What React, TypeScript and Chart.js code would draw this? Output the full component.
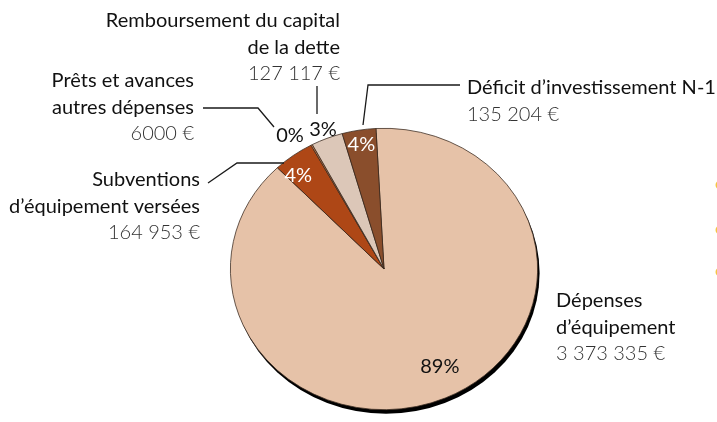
import React, { useEffect, useRef } from 'react';
import { Chart, registerables } from 'chart.js';

Chart.register(...registerables);

// ---- data ----
const categories = [
  "Dépenses d’équipement",
  "Subventions d’équipement versées",
  "Prêts et avances autres dépenses",
  "Remboursement du capital de la dette",
  "Déficit d’investissement N-1",
];
const amounts = [3373335, 164953, 6000, 127117, 135204];
const amountLabels = ['3 373 335 €', '164 953 €', '6000 €', '127 117 €', '135 204 €'];
const nameLines = [
  ['Dépenses', 'd’équipement'],
  ['Subventions', 'd’équipement versées'],
  ['Prêts et avances', 'autres dépenses'],
  ['Remboursement du capital', 'de la dette'],
  ['Déficit d’investissement N-1'],
];
const sliceColors = ['#E6C2A8', '#AE4716', '#D9895A', '#DCC7B8', '#8A4E2C'];

// ---- styling / layout (not data) ----
const SQUASH = 0.916;
const FONT = 'Lato, "Open Sans", sans-serif';
const pctRadius = [0.78, 0.87, 1.13, 1.07, 0.9];
const pctShiftDeg = [-4.3, -3.7, -4.7, 0, 0];
const pctColor = ['#111', '#fff', '#111', '#111', '#fff'];
const labelBlocks = [
  { x: 556, y: 301, align: 'left' },
  { x: 200, y: 180, align: 'right' },
  { x: 194, y: 81, align: 'right' },
  { x: 340, y: 21, align: 'right' },
  { x: 467, y: 88, align: 'left' },
];
const leaders: number[][][] = [
  [],
  [[208, 183], [237, 163], [284, 163]],
  [[203, 108], [258, 108], [274, 127]],
  [[317, 86], [317, 114]],
  [[460, 85], [368, 85], [363, 125]],
];

const pieDecor = {
  id: 'pieDecor',
  beforeDatasetsDraw(chart: any) {
    const arc = chart.getDatasetMeta(0).data[0];
    if (!arc) return;
    const { x, y, outerRadius } = arc.getProps(['x', 'y', 'outerRadius'], true);
    const ctx = chart.ctx;
    ctx.save();
    ctx.translate(x, y);
    ctx.scale(1, SQUASH);
    ctx.translate(-x, -y);
    ctx.beginPath();
    ctx.arc(x + 2, y + 4.5, outerRadius, 0, Math.PI * 2);
    ctx.fillStyle = '#000';
    ctx.fill();
  },
  afterDatasetsDraw(chart: any) {
    const ctx = chart.ctx;
    ctx.restore();
    const meta = chart.getDatasetMeta(0);
    const total = amounts.reduce((a, b) => a + b, 0);
    ctx.save();
    // percentage labels
    ctx.textAlign = 'center';
    ctx.textBaseline = 'middle';
    meta.data.forEach((el: any, i: number) => {
      const p = el.getProps(['x', 'y', 'startAngle', 'endAngle', 'outerRadius'], true);
      const mid = (p.startAngle + p.endAngle) / 2 + (pctShiftDeg[i] * Math.PI) / 180;
      const r = p.outerRadius * pctRadius[i];
      const tx = p.x + Math.cos(mid) * r;
      const ty = p.y + Math.sin(mid) * r * SQUASH;
      ctx.fillStyle = pctColor[i];
      ctx.font = `400 20px ${FONT}`;
      ctx.fillText(Math.round((amounts[i] / total) * 100) + '%', tx, ty);
    });
    // leader lines
    ctx.strokeStyle = '#1a1a1a';
    ctx.lineWidth = 1.3;
    leaders.forEach((pts) => {
      if (!pts.length) return;
      ctx.beginPath();
      pts.forEach((pt, k) => (k === 0 ? ctx.moveTo(pt[0], pt[1]) : ctx.lineTo(pt[0], pt[1])));
      ctx.stroke();
    });
    // category labels
    labelBlocks.forEach((b, i) => {
      ctx.textAlign = b.align;
      let yy = b.y;
      nameLines[i].forEach((line) => {
        ctx.fillStyle = '#111';
        ctx.font = `400 20px ${FONT}`;
        ctx.fillText(line, b.x, yy);
        yy += 26.3;
      });
      ctx.fillStyle = '#333';
      ctx.font = `300 20px ${FONT}`;
      ctx.fillText(amountLabels[i], b.x, yy);
    });
    // clipped legend markers at the right edge
    ctx.fillStyle = '#F5C542';
    [185, 230, 272].forEach((yy) => {
      ctx.beginPath();
      ctx.arc(720, yy, 4.5, 0, Math.PI * 2);
      ctx.fill();
    });
    ctx.restore();
  },
};

export default function App() {
  const ref = useRef<HTMLCanvasElement>(null);
  useEffect(() => {
    document.body.style.margin = '0';
    const chart = new Chart(ref.current as HTMLCanvasElement, {
      type: 'pie',
      data: {
        labels: categories,
        datasets: [
          {
            data: amounts,
            backgroundColor: sliceColors,
            borderColor: '#3a2a20',
            borderWidth: 0.8,
          },
        ],
      },
      options: {
        responsive: false,
        animation: false,
        rotation: -3,
        layout: { padding: { left: 230, right: 179, top: 115, bottom: 17 } },
        plugins: { legend: { display: false }, tooltip: { enabled: false } },
      },
      plugins: [pieDecor],
    });
    return () => chart.destroy();
  }, []);
  return (
    <div style={{ position: 'fixed', left: 0, top: 0, width: 717, height: 422, overflow: 'hidden', background: '#fff' }}>
      <canvas ref={ref} width={717} height={440} />
    </div>
  );
}
